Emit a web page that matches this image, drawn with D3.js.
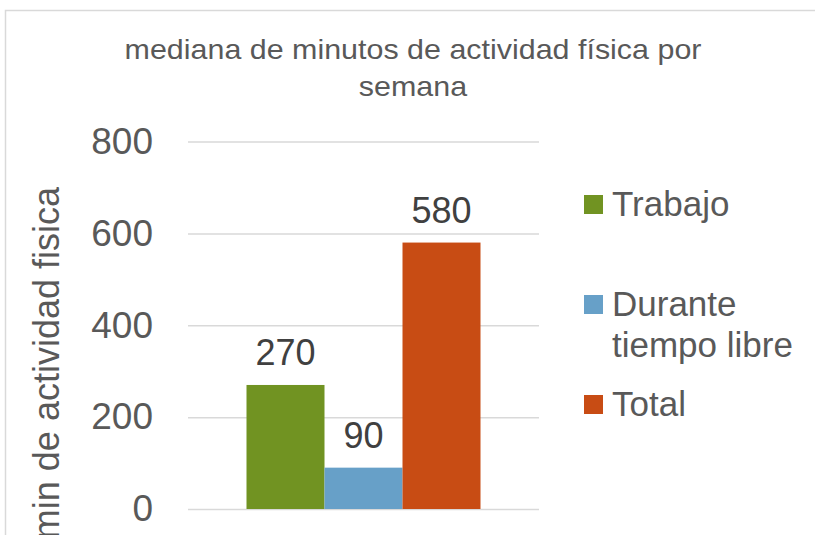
<!DOCTYPE html>
<html>
<head>
<meta charset="utf-8">
<script src="https://cdn.jsdelivr.net/npm/d3@7"></script>
<style>
  html, body { margin: 0; padding: 0; background: #fff; overflow: hidden; }
  svg { display: block; font-family: "Liberation Sans", Arial, sans-serif; }
</style>
</head>
<body>
<svg id="chart" width="815" height="535"></svg>
<script>
const titleLines = ["mediana de minutos de actividad física por", "semana"];
const yAxisTitle = "min de actividad fisica";
const categories = [""];
const seriesNames = ["Trabajo", "Durante tiempo libre", "Total"];
const legendLines = [["Trabajo"], ["Durante", "tiempo libre"], ["Total"]];
const seriesValues = [270, 90, 580];
const seriesColors = ["#719322", "#67A0C8", "#C84C14"];
const yTicks = [0, 200, 400, 600, 800];

const svg = d3.select("#chart");
const W = 815, H = 535;

// chart border
svg.append("rect")
  .attr("x", 5.5).attr("y", 10.5)
  .attr("width", W + 20).attr("height", H + 20)
  .attr("fill", "#fff").attr("stroke", "#D9D9D9").attr("stroke-width", 1.5);

const plot = { left: 188, right: 539, top: 141.5, bottom: 509 };

const y = d3.scaleLinear().domain([0, 800]).range([plot.bottom, plot.top]);
const x0 = d3.scaleBand().domain(categories).range([plot.left, plot.right])
  .paddingInner(0.2).paddingOuter(0.2);
const x1 = d3.scaleBand().domain(seriesNames).range([0, x0.bandwidth()]).padding(0);

// gridlines + tick labels via axis
const yAxis = d3.axisLeft(y).tickValues(yTicks).tickSize(-(plot.right - plot.left)).tickPadding(35);
const gy = svg.append("g").attr("transform", `translate(${plot.left},0)`).call(yAxis);
gy.select(".domain").remove();
gy.selectAll(".tick line").attr("stroke", "#D9D9D9").attr("stroke-width", 1.5);
gy.selectAll(".tick text")
  .attr("fill", "#595959")
  .style("font-size", "37px")
  .style("font-family", "'Liberation Sans', Arial, sans-serif");

// bars
const g = svg.append("g");
const data = seriesNames.map((s, i) => ({ cat: categories[0], name: s, value: seriesValues[i], color: seriesColors[i] }));
g.selectAll("rect.bar").data(data).join("rect")
  .attr("class", "bar")
  .attr("x", d => x0(d.cat) + x1(d.name))
  .attr("y", d => y(d.value))
  .attr("width", x1.bandwidth())
  .attr("height", d => y(0) - y(d.value))
  .attr("fill", d => d.color);

// data labels
g.selectAll("text.lbl").data(data).join("text")
  .attr("class", "lbl")
  .attr("x", d => x0(d.cat) + x1(d.name) + x1.bandwidth() / 2)
  .attr("y", d => y(d.value) - 20)
  .attr("text-anchor", "middle")
  .attr("fill", "#404040")
  .style("font-size", "36px")
  .text(d => d.value);

// y axis title
svg.append("text")
  .attr("transform", "translate(59,187) rotate(-90)")
  .attr("text-anchor", "end")
  .attr("fill", "#595959")
  .style("font-size", "36px")
  .text(yAxisTitle);

// title: taller glyphs compressed horizontally to the reference width
const titleG = svg.append("g");
const title = titleG.append("text")
  .attr("text-anchor", "middle")
  .attr("fill", "#595959")
  .style("font-size", "27px");
titleLines.forEach((t, i) => {
  title.append("tspan").attr("x", 0).attr("y", 59 + i * 37).text(t);
});
const firstLen = title.select("tspan").node().getComputedTextLength();
const sx = 577 / firstLen;
titleG.attr("transform", `translate(413,0) scale(${sx},1)`);

// legend
const legendTops = [195, 295, 395];
const legend = svg.append("g");
legendLines.forEach((lines, i) => {
  legend.append("rect")
    .attr("x", 584).attr("y", legendTops[i])
    .attr("width", 19).attr("height", 19)
    .attr("fill", seriesColors[i]);
  const t = legend.append("text")
    .attr("fill", "#595959")
    .style("font-size", "35px");
  lines.forEach((line, j) => {
    t.append("tspan").attr("x", 612).attr("y", legendTops[i] + 21 + j * 41).text(line);
  });
});
</script>
</body>
</html>
